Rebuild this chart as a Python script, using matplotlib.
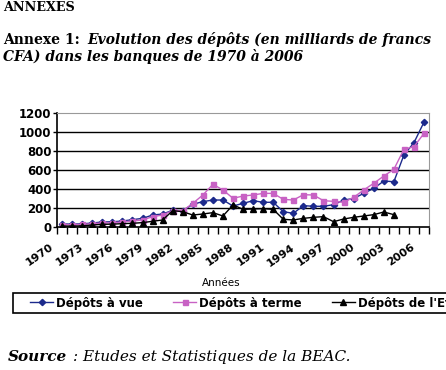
import numpy as np
import matplotlib.pyplot as plt
from matplotlib.patches import Rectangle
from matplotlib.transforms import ScaledTranslation

years = list(range(1970, 2007))
depots_vue = [32, 30, 33, 42, 53, 55, 63, 77, 91, 126, 137, 176, 172, 239, 267, 284, 284, 221,
              249, 277, 260, 260, 161, 144, 225, 218, 218, 235, 284, 300, 354, 407, 484, 477,
              758, 888, 1105]
depots_terme = [25, 24, 27, 35, 42, 44, 53, 63, 74, 109, 126, 172, 172, 249, 337, 449, 390, 302,
                326, 337, 354, 354, 291, 284, 340, 337, 277, 270, 260, 312, 390, 460, 537, 607,
                818, 846, 986]
depots_etat = [10, 10, 12, 21, 28, 30, 35, 39, 46, 60, 74, 172, 161, 126, 137, 151, 116, 232,
               186, 190, 193, 186, 81, 74, 91, 102, 109, 56, 84, 102, 116, 130, 158, 130,
               np.nan, np.nan, np.nan]
yticks = [0, 200, 400, 600, 800, 1000, 1200]

fig = plt.figure(figsize=(4.46, 3.70), dpi=100)
ax = fig.add_axes([0.128, 0.3865, 0.834, 0.308])

x = np.arange(len(years))
ax.plot(x, depots_vue, color='#1c2a8c', marker='D', markersize=3.2, lw=1.0, label='Dépôts à vue')
ax.plot(x, depots_terme, color='#c862c4', marker='s', markersize=3.6, lw=1.0, label='Dépôts à terme')
ax.plot(x, depots_etat, color='black', marker='^', markersize=4, lw=1.0, label="Dépôts de l'Etat")

ax.set_xlim(-0.5, len(years) - 0.5)
ax.set_ylim(0, 1200)
ax.set_yticks(yticks)
ax.set_yticklabels([str(v) for v in yticks], fontsize=8.5, fontweight='bold')
for v in yticks[1:-1]:
    ax.axhline(v, color='black', lw=1.0, zorder=0)

# tick marks between categories, labels every 3 years
ax.set_xticks(np.arange(len(years) + 1) - 0.5)
ax.set_xticklabels([])
ax.tick_params(axis='x', length=5, direction='out', width=1)
ax.tick_params(axis='y', length=3, width=1, pad=1)
lab_tr = ax.get_xaxis_transform() + ScaledTranslation(-13 / 100, -15 / 100, fig.dpi_scale_trans)
for xi, yr in zip(x[::3], years[::3]):
    ax.text(xi, 0, str(yr), transform=lab_tr, rotation=35, ha='right', va='top',
            rotation_mode='anchor', fontsize=8, fontweight='bold', clip_on=False)
fig.text(0.496, 0.235, 'Années', fontsize=7.5, ha='center', va='center')

for s in ['top', 'right']:
    ax.spines[s].set_color('#999999')
for s in ['left', 'bottom']:
    ax.spines[s].set_linewidth(1.2)

# legend box runs past the right edge, as in the source
fig.patches.append(Rectangle((0.029, 0.154), 1.0, 0.054, transform=fig.transFigure,
                             facecolor='white', edgecolor='black', lw=1.2, zorder=1))
leg = fig.legend(loc='center left', bbox_to_anchor=(0.067, 0.181), ncol=3, frameon=False,
                 prop={'weight': 'bold', 'size': 8.5}, handlelength=2.0, handletextpad=0.25,
                 columnspacing=2.5, borderpad=0.0, borderaxespad=0.0)
leg.set_zorder(2)

fig.text(0.007, 0.981, 'ANNEXES', family='DejaVu Serif', fontweight='bold', fontsize=9.2, va='center')
fig.text(0.007, 0.892, 'Annexe 1:', family='DejaVu Serif', fontweight='bold', fontsize=10, va='center')
fig.text(0.195, 0.892, 'Evolution des dépôts (en milliards de francs', family='DejaVu Serif',
         fontweight='bold', style='italic', fontsize=10, va='center')
fig.text(0.007, 0.846, 'CFA) dans les banques de 1970 à 2006', family='DejaVu Serif',
         fontweight='bold', style='italic', fontsize=10, va='center')
fig.text(0.018, 0.035, 'Source', family='DejaVu Serif', fontweight='bold', style='italic',
         fontsize=11, va='center')
fig.text(0.163, 0.035, ': Etudes et Statistiques de la BEAC.', family='DejaVu Serif',
         style='italic', fontsize=11, va='center')

fig.savefig('out.png', dpi=100)
